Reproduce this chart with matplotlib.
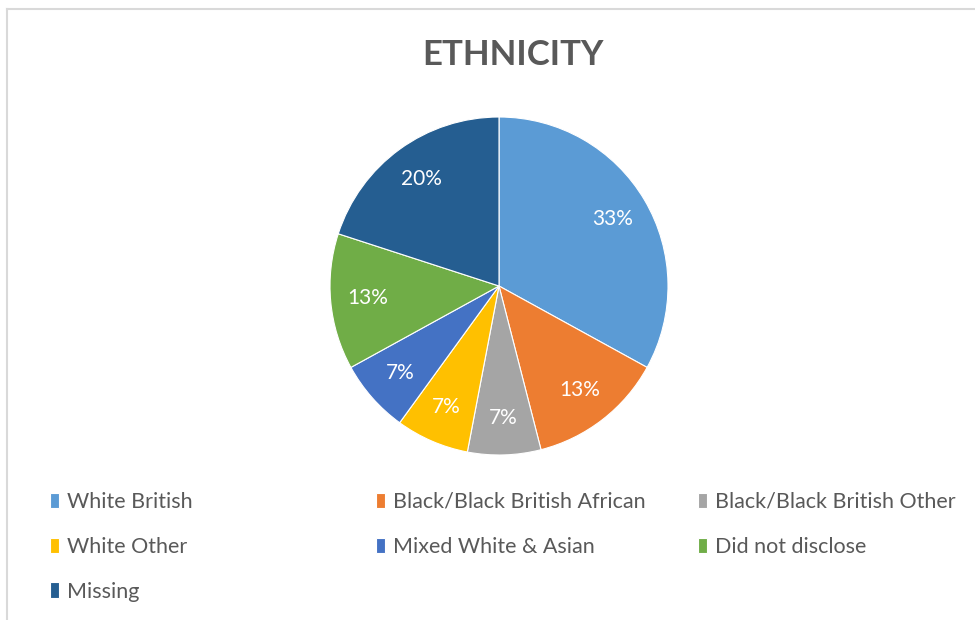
import matplotlib.pyplot as plt
from matplotlib.lines import Line2D

# Ethnicity breakdown (percent of respondents)
categories = ["White British", "Black/Black British African", "Black/Black British Other",
              "White Other", "Mixed White & Asian", "Did not disclose", "Missing"]
shares = [33, 13, 7, 7, 7, 13, 20]
colors = ["#5B9BD5", "#ED7D31", "#A5A5A5", "#FFC000", "#4472C4", "#70AD47", "#255E91"]

plt.rcParams['font.family'] = ['Lato', 'DejaVu Sans']
grey = "#595959"

fig = plt.figure(figsize=(9.75, 6.2), dpi=100)

# faint chart frame (top and left edges visible in the crop)
fig.add_artist(Line2D([7/975, 7/975], [0, 1 - 9/620], transform=fig.transFigure, color="#d9d9d9", lw=1.5))
fig.add_artist(Line2D([7/975, 1], [1 - 9/620, 1 - 9/620], transform=fig.transFigure, color="#d9d9d9", lw=1.5))

ax = fig.add_axes([330/975, 1 - 455/620, 338/975, 338/620])
wedges, texts, autotexts = ax.pie(
    shares, colors=colors, startangle=90, counterclock=False,
    autopct=lambda p: f"{p:.0f}%", pctdistance=0.78,
    wedgeprops=dict(edgecolor="white", linewidth=0.8),
    textprops=dict(color="white", fontsize=15))
ax.set_xlim(-1, 1)
ax.set_ylim(-1, 1)
ax.set_aspect("equal")

fig.text(513/975, 1 - 55/620, "ETHNICITY", ha="center", va="center",
         fontsize=25, fontweight="bold", color=grey)

# legend laid out in three fixed columns like the Excel original
col_x = [50/975, 376/975, 698/975]
for c, x in enumerate(col_x):
    idx = list(range(c, len(categories), 3))
    leg = fig.legend([wedges[i] for i in idx], [categories[i] for i in idx],
                     loc="upper left", bbox_to_anchor=(x, 1 - 492/620),
                     frameon=False, fontsize=15.5, handlelength=0.4, handleheight=0.7,
                     handletextpad=0.4, labelspacing=1.15, borderaxespad=0, borderpad=0)
    for t in leg.get_texts():
        t.set_color(grey)

fig.savefig("out.png", dpi=100, facecolor="white")
